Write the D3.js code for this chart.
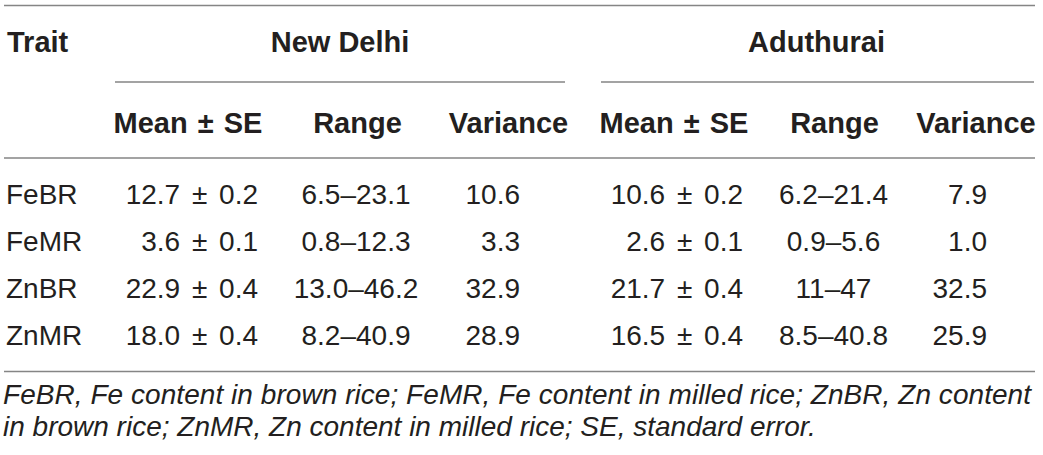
<!DOCTYPE html>
<html><head><meta charset="utf-8">
<script src="https://cdn.jsdelivr.net/npm/d3@7"></script>
<style>
html,body{margin:0;padding:0;background:#fff;}
svg{display:block;}
</style></head>
<body>
<svg id="chart" width="1043" height="455"></svg>
<script>
const traits = ["FeBR", "FeMR", "ZnBR", "ZnMR"];
const locations = ["New Delhi", "Aduthurai"];
const subHeaders = ["Mean \u00b1 SE", "Range", "Variance"];
const ndMean = ["12.7 \u00b1 0.2", "3.6 \u00b1 0.1", "22.9 \u00b1 0.4", "18.0 \u00b1 0.4"];
const ndRange = ["6.5\u201323.1", "0.8\u201312.3", "13.0\u201346.2", "8.2\u201340.9"];
const ndVar = ["10.6", "3.3", "32.9", "28.9"];
const adMean = ["10.6 \u00b1 0.2", "2.6 \u00b1 0.1", "21.7 \u00b1 0.4", "16.5 \u00b1 0.4"];
const adRange = ["6.2\u201321.4", "0.9\u20135.6", "11\u201347", "8.5\u201340.8"];
const adVar = ["7.9", "1.0", "32.5", "25.9"];
const footnote = [
  "FeBR, Fe content in brown rice; FeMR, Fe content in milled rice; ZnBR, Zn content",
  "in brown rice; ZnMR, Zn content in milled rice; SE, standard error."
];

const svg = d3.select("#chart");
const FONT = "'Liberation Sans', Helvetica, Arial, sans-serif";
const TXT = "#231f20";
const LINE = "#858585";

const y = d3.scalePoint().domain(traits).range([204, 345]);

const cols = [
  {vals: ndMean, x: 258, anchor: "end", ws: 4},
  {vals: ndRange, x: 356, anchor: "middle", ws: 0},
  {vals: ndVar, x: 520, anchor: "end", ws: 0},
  {vals: adMean, x: 743, anchor: "end", ws: 4},
  {vals: adRange, x: 833.5, anchor: "middle", ws: 0},
  {vals: adVar, x: 987, anchor: "end", ws: 0}
];
const subX = [188, 357.5, 508.5, 674, 834.5, 976];
const locX = [340, 816.5];
const locLines = [[115, 565], [601, 1034]];

function hline(x1, x2, yy) {
  svg.append("line").attr("x1", x1).attr("x2", x2).attr("y1", yy).attr("y2", yy)
    .attr("stroke", LINE).attr("stroke-width", 1.5);
}

hline(4, 1035, 5.5);
locLines.forEach(l => hline(l[0], l[1], 82));
hline(4, 1035, 158);
hline(4, 1035, 371.5);

// header
svg.append("text").attr("x", 7).attr("y", 52).text("Trait")
  .attr("font-family", FONT).attr("font-weight", "bold").attr("font-size", 29).attr("fill", TXT);
svg.selectAll("text.loc").data(locations).join("text").attr("class", "loc")
  .attr("x", (d, i) => locX[i]).attr("y", 52).attr("text-anchor", "middle")
  .attr("font-family", FONT).attr("font-weight", "bold").attr("font-size", 29).attr("fill", TXT)
  .text(d => d);
const subs = subX.map((x, i) => ({x, t: subHeaders[i % 3]}));
svg.selectAll("text.sub").data(subs).join("text").attr("class", "sub")
  .attr("x", d => d.x).attr("y", 133).attr("text-anchor", "middle")
  .attr("font-family", FONT).attr("font-weight", "bold").attr("font-size", 29).attr("fill", TXT)
  .attr("word-spacing", (d, i) => i % 3 === 0 ? 2 : 0)
  .text(d => d.t);

// trait column
svg.selectAll("text.trait").data(traits).join("text").attr("class", "trait")
  .attr("x", 6).attr("y", d => y(d))
  .attr("font-family", FONT).attr("font-size", 28).attr("fill", TXT)
  .text(d => d);

cols.forEach((c, ci) => {
  svg.selectAll("text.c" + ci).data(c.vals).join("text").attr("class", "c" + ci)
    .attr("x", c.x).attr("y", (d, i) => y(traits[i])).attr("text-anchor", c.anchor)
    .attr("word-spacing", c.ws)
    .attr("font-family", FONT).attr("font-size", 28).attr("fill", TXT)
    .text(d => d);
});

svg.selectAll("text.foot").data(footnote).join("text").attr("class", "foot")
  .attr("x", 3).attr("y", (d, i) => 404 + i * 32)
  .attr("font-family", FONT).attr("font-style", "italic").attr("font-size", 28).attr("fill", TXT)
  .each(function(d, i) { if (i === 0) d3.select(this).attr("textLength", 1028).attr("lengthAdjust", "spacing"); })
  .text(d => d);
</script>
</body></html>
